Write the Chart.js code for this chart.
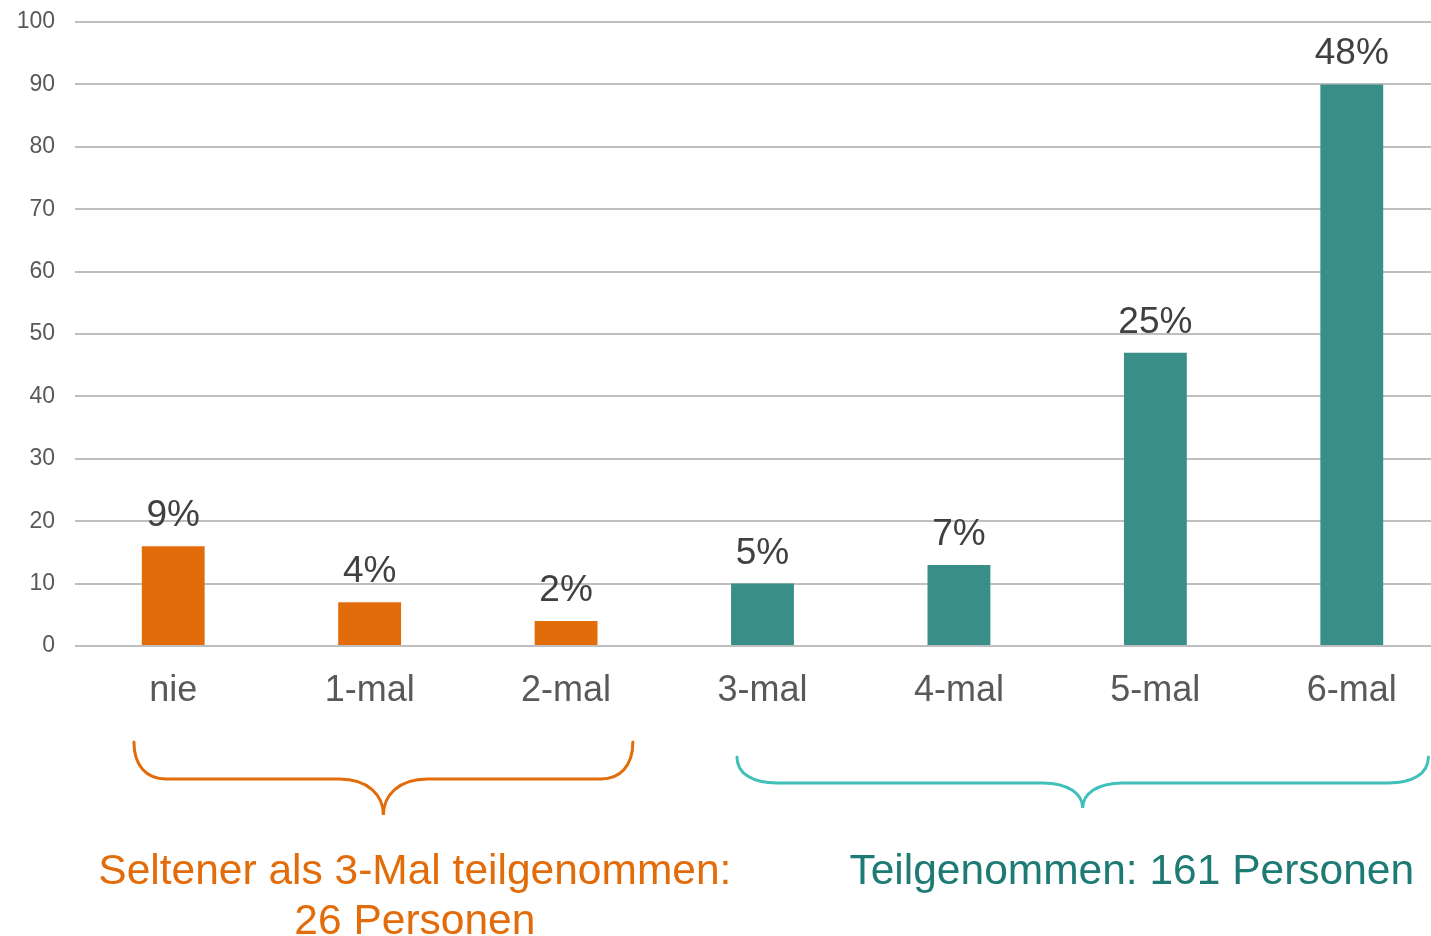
<!DOCTYPE html>
<html>
<head>
<meta charset="utf-8">
<script src="https://cdn.jsdelivr.net/npm/chart.js@4"></script>
<style>
  body { margin: 0; background: #fff; overflow: hidden; }
  #wrap { width: 1431px; height: 936px; overflow: hidden; }
</style>
</head>
<body>
<div id="wrap"><canvas id="teilnahme" width="1450" height="936"></canvas></div>
<script>
const categories = ['nie', '1-mal', '2-mal', '3-mal', '4-mal', '5-mal', '6-mal'];
const personen = [16, 7, 4, 10, 13, 47, 90];
const prozente = ['9%', '4%', '2%', '5%', '7%', '25%', '48%'];
const gruppe = ['selten', 'selten', 'selten', 'teil', 'teil', 'teil', 'teil'];
const yMin = 0, yMax = 100, yStep = 10;
const textSelten = ['Seltener als 3-Mal teilgenommen:', '26 Personen'];
const textTeil = ['Teilgenommen: 161 Personen'];

const ORANGE = '#E36C0A';
const TEAL_BAR = '#398E88';
const TEAL_BRACE = '#40C0B8';
const TEAL_TEXT = '#1E7B74';
const FONT = '"Liberation Sans", Arial, sans-serif';

function brace(ctx, x1, x2, yTop, yMid, yTip, rEnd, rMid) {
  const xm = (x1 + x2) / 2;
  ctx.beginPath();
  ctx.moveTo(x1, yTop);
  ctx.bezierCurveTo(x1, yMid - (yMid - yTop) * 0.35, x1 + rEnd * 0.4, yMid, x1 + rEnd, yMid);
  ctx.lineTo(xm - rMid, yMid);
  ctx.bezierCurveTo(xm - rMid * 0.35, yMid, xm, yMid + (yTip - yMid) * 0.45, xm, yTip);
  ctx.bezierCurveTo(xm, yMid + (yTip - yMid) * 0.45, xm + rMid * 0.35, yMid, xm + rMid, yMid);
  ctx.lineTo(x2 - rEnd, yMid);
  ctx.bezierCurveTo(x2 - rEnd * 0.4, yMid, x2, yMid - (yMid - yTop) * 0.35, x2, yTop);
  ctx.stroke();
}

const annotations = {
  id: 'annotations',
  afterDatasetsDraw(chart) {
    const ctx = chart.ctx;
    const meta = chart.getDatasetMeta(0);
    const x = chart.scales.x;
    ctx.save();
    // Prozentwerte über den Balken
    ctx.font = '37px ' + FONT;
    ctx.fillStyle = '#404040';
    ctx.textAlign = 'center';
    ctx.textBaseline = 'alphabetic';
    meta.data.forEach((bar, i) => {
      ctx.fillText(prozente[i], bar.x, bar.y - 20);
    });

    // Klammern
    const catW = x.getPixelForValue(1) - x.getPixelForValue(0);
    ctx.lineWidth = 3;
    ctx.lineCap = 'round';
    ctx.strokeStyle = ORANGE;
    brace(ctx, x.getPixelForValue(0) - 0.2 * catW, x.getPixelForValue(2) + 0.34 * catW, 742, 779, 815, 32, 44);
    ctx.strokeStyle = TEAL_BRACE;
    brace(ctx, x.getPixelForValue(3) - 0.13 * catW, x.getPixelForValue(6) + 0.39 * catW, 757, 783, 808, 40, 40);

    // Gruppentexte
    ctx.font = '42.5px ' + FONT;
    ctx.textBaseline = 'middle';
    ctx.fillStyle = ORANGE;
    const cx1 = x.getPixelForValue(1) + 0.23 * catW;
    textSelten.forEach((t, i) => ctx.fillText(t, cx1, 872 + i * 50));
    ctx.fillStyle = TEAL_TEXT;
    const cx2 = x.getPixelForValue(4) + 0.88 * catW;
    textTeil.forEach((t, i) => ctx.fillText(t, cx2, 872 + i * 50));
    ctx.restore();
  }
};

new Chart(document.getElementById('teilnahme'), {
  type: 'bar',
  data: {
    labels: categories,
    datasets: [{
      data: personen,
      backgroundColor: gruppe.map(g => g === 'selten' ? ORANGE : TEAL_BAR),
      barPercentage: 0.32,
      categoryPercentage: 1.0
    }]
  },
  options: {
    responsive: false,
    animation: false,
    layout: { padding: { top: 22, right: 0, left: 0, bottom: 0 } },
    plugins: { legend: { display: false }, tooltip: { enabled: false } },
    scales: {
      x: {
        grid: { display: false },
        border: { display: false },
        ticks: { color: '#595959', font: { family: FONT, size: 36 }, padding: 15 },
        afterFit(scale) { scale.height = 936 - 646; }
      },
      y: {
        min: yMin,
        max: yMax,
        ticks: { stepSize: yStep, color: '#595959', font: { family: FONT, size: 23 }, padding: 20 },
        grid: { color: '#BFBFBF', lineWidth: 2, drawTicks: false },
        border: { display: false },
        afterFit(scale) {
          scale.width = 75;
          scale.paddingTop = 0;
          scale.paddingBottom = 0;
        }
      }
    }
  },
  plugins: [annotations]
});
</script>
</body>
</html>
